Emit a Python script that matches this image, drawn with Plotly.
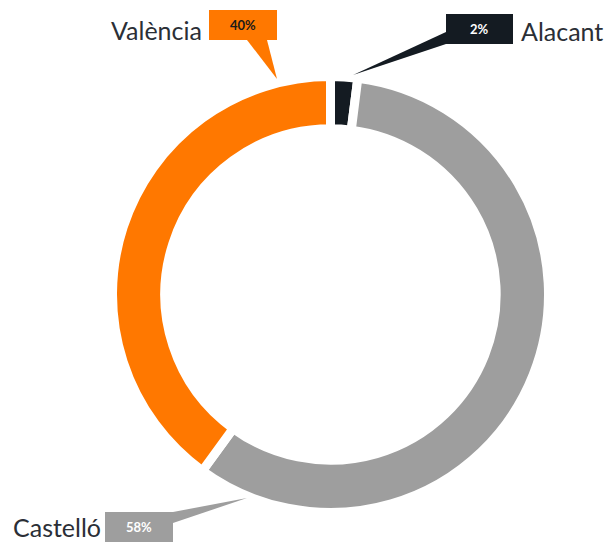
import plotly.graph_objects as go

# data
regions = ["Alacant", "Castelló", "València"]
shares = [2, 58, 40]
colors = ["#141b22", "#9e9e9e", "#ff7800"]
box_text_colors = ["#ffffff", "#ffffff", "#1a1a1a"]

W, H = 607, 542


def px(x):
    return x / W


def py(y):
    return 1 - y / H


# pie geometry in pixels
cx, cy, r = 330.5, 294.5, 218

fig = go.Figure(
    go.Pie(
        labels=regions,
        values=shares,
        sort=False,
        direction="clockwise",
        rotation=0,
        hole=0.76,
        textinfo="none",
        hoverinfo="label+percent",
        marker=dict(colors=colors, line=dict(color="white", width=9)),
        domain=dict(x=[px(cx - r), px(cx + r)], y=[py(cy + r), py(cy - r)]),
    )
)

# callout layout (pixels): box rect, pointer triangle, label position
callouts = {
    "Alacant": dict(box=(446, 14, 513, 44), tri=[(446, 32), (446, 44), (353, 75)],
                    label=(519, 31, "left")),
    "Castelló": dict(box=(105, 512, 173, 542), tri=[(173, 512), (173, 523), (247, 498)],
                     label=(103, 527, "right")),
    "València": dict(box=(209, 10, 277, 40), tri=[(247, 40), (267, 40), (277, 79)],
                     label=(204, 30, "right")),
}

shapes = []
annotations = []
for name, share, col, tcol in zip(regions, shares, colors, box_text_colors):
    c = callouts[name]
    x0, y0, x1, y1 = c["box"]
    path = "M " + " L ".join(f"{px(x)},{py(y)}" for x, y in c["tri"]) + " Z"
    shapes.append(dict(type="path", xref="paper", yref="paper", path=path,
                       fillcolor=col, line=dict(width=0)))
    shapes.append(dict(type="rect", xref="paper", yref="paper",
                       x0=px(x0), x1=px(x1), y0=py(y1), y1=py(y0),
                       fillcolor=col, line=dict(width=0)))
    annotations.append(dict(x=px((x0 + x1) / 2), y=py((y0 + y1) / 2),
                            xref="paper", yref="paper", showarrow=False,
                            xanchor="center", yanchor="middle",
                            text=f"<b>{share}%</b>",
                            font=dict(family="Lato", size=13, color=tcol)))
    lx, ly, anchor = c["label"]
    annotations.append(dict(x=px(lx), y=py(ly), xref="paper", yref="paper",
                            showarrow=False, xanchor=anchor, yanchor="middle",
                            text=name,
                            font=dict(family="Lato", size=25, color="#2b2f36")))

fig.update_layout(
    width=W,
    height=H,
    margin=dict(l=0, r=0, t=0, b=0),
    paper_bgcolor="white",
    plot_bgcolor="white",
    showlegend=False,
    shapes=shapes,
    annotations=annotations,
)

# drop the default page margin so the figure sits flush in the window
fig.write_html("out.html", config={"displayModeBar": False},
               post_script="document.body.style.margin='0';")
